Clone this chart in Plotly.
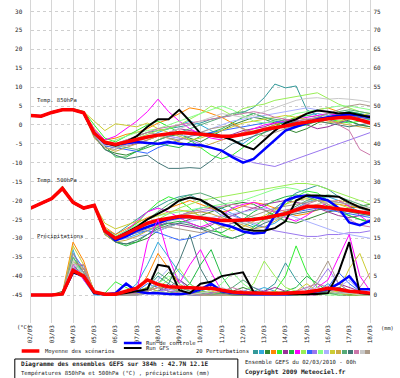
import plotly.graph_objects as go

# ---------------- data ----------------
hours = list(range(0, 385, 12))          # 02/03 00h .. 18/03 00h, 12 h steps
date_hours = list(range(0, 385, 24))
date_labels = ["02/03", "03/03", "04/03", "05/03", "06/03", "07/03", "08/03", "09/03",
               "10/03", "11/03", "12/03", "13/03", "14/03", "15/03", "16/03", "17/03", "18/03"]
temp_ticks = list(range(-45, 31, 5))
temp_tick_labels = [str(v) for v in temp_ticks]
precip_ticks = list(range(0, 76, 5))
precip_tick_labels = [str(v) for v in precip_ticks]

perturbation_names = ["%02d" % k for k in range(1, 21)]
perturbation_colors = ["#339999", "#33aadd", "#338833", "#ff8800", "#33ee33", "#993399", "#22bb44",
                       "#ff00ff", "#99ee55", "#3366ff", "#9977ee", "#88ff88", "#aab0ff", "#cccc33",
                       "#ccaa44", "#55aa77", "#447777", "#cc77aa", "#c8c8c8", "#aa9988"]

# 850 hPa temperature (degC)
t850_mean = [2.5, 2.3, 3.3, 4.0, 4.0, 3.2, -2.2, -4.6, -5.2, -4.5, -3.8, -3.2, -2.7, -2.3, -2.0, -2.2, -2.5,
             -2.8, -3.0, -3.0, -2.5, -2.0, -1.2, -0.8, -0.3, 0.3, 0.8, 1.2, 1.6, 1.9, 2.0, 1.3, 0.5]
t850_control = [2.5, 2.3, 3.3, 4.0, 4.0, 3.2, -2.2, -4.8, -5.2, -4.8, -4.5, -4.8, -5.0, -4.5, -5.0, -5.2, -5.4,
                -6.0, -6.8, -8.5, -10.0, -9.0, -6.5, -4.0, -1.5, -0.5, 0.5, 1.5, 2.0, 2.5, 2.8, 2.5, 2.0]
t850_gfs = [2.5, 2.3, 3.3, 4.0, 4.0, 3.2, -2.2, -4.8, -5.5, -4.5, -3.0, -0.5, 1.5, 1.5, 4.0, 1.0, -2.3,
            -2.5, -3.0, -4.0, -5.5, -6.5, -4.0, -1.5, 0.5, 1.5, 3.0, 3.8, 3.5, 3.0, 3.2, 2.5, 2.0]
t850_perturbations = [
    [2.4, 2.2, 3.4, 4.1, 4.2, 3.0, -1.5, -4.5, -5, -4, -3, -2, -1.5, -1, -0.5, 0, 0.5, 1.5, 2, 2.5, 3.3, 4.6, 7.2, 10.8, 9.8, 10.3, 4, 2.5, 1.5, 0.5, 1, 0, -0.5],
    [2.6, 2.3, 3.2, 3.9, 4.1, 3.3, -2.5, -5.5, -6, -5, -4, -3.5, -2, -1, 0, 1, 0, -1.5, -3, -4, -5, -3, -1, 0, 1, 1.5, 2.5, 3, 2.5, 3, 3.5, 3, 2.5],
    [2.5, 2.2, 3.3, 4.0, 3.9, 3.0, -3, -6.5, -7.5, -8, -7, -5.5, -4, -3, -2.5, -3.5, -4.5, -3, -1.5, 0, 1, 2, 1.5, 0.5, -1, -2, -1, 0.5, 1.5, 2, 1, 0, -0.5],
    [2.5, 2.4, 3.4, 4.1, 4.0, 3.4, -1, -4, -3.5, -2.5, -2, -1, 0.5, 1.5, 3, 4.5, 4, 3, 2, 0.5, -1, -2, -1, 0, 1, 2, 3, 4, 4.5, 3.5, 2.5, 2, 1.5],
    [2.4, 2.3, 3.5, 4.2, 4.3, 3.6, 0, -3.5, -4.5, -3, -1.5, 0, 1, -0.5, -2, -4, -6, -8, -9, -8, -6, -4, -2, -0.5, 1, 2, 2.5, 2, 1.5, 1, 0.5, 1, 1.5],
    [2.5, 2.2, 3.2, 3.9, 4.0, 3.1, -2.8, -5.5, -6, -5.5, -5, -4, -3, -2, -1, -1.5, -2, -3, -3.5, -2.5, -1.5, -1, -0.5, 0.5, 1.5, 1, 0, -1, -0.5, 0.5, 1.5, 2, 2.5],
    [2.6, 2.4, 3.3, 4.0, 4.1, 3.2, -2, -5.5, -8.5, -8.5, -7, -6, -5, -5.5, -6, -4.5, -3, -2, -1, 0.5, 2, 3, 2, 1, 0, -0.5, 0, 1, 2, 3, 3.5, 3, 2],
    [2.5, 2.3, 3.4, 4.1, 4.2, 3.4, -1.2, -4, -3, -1, 1, 3.5, 6.8, 3.5, 1, -1, -2.5, -3.5, -4, -3, -2, -1, 0, 0.5, 1, 1.5, 2, 2.5, 3, 2.5, 2, 1.5, 1],
    [2.4, 2.3, 3.3, 4.0, 4.0, 3.1, -1.8, -4.5, -5, -4.5, -3.5, -2.5, -1.5, -1, 0, 1.5, 3, 5, 4, 2.5, 4.3, 5, 5.5, 6.5, 7, 7.5, 8.2, 8.5, 7, 5.5, 4.5, 3.5, 3],
    [2.5, 2.3, 3.3, 4.0, 4.1, 3.2, -2.5, -5.5, -6, -6.5, -7, -7.5, -6, -5, -4, -3, -2.5, -2, -1.5, -1, -0.5, 0, 0.5, 1, 0.5, 0, 0.5, 1, 1.5, 2, 2.5, 2, 1.5],
    [2.5, 2.2, 3.2, 4.0, 4.0, 3.1, -2.5, -5, -5.5, -5, -4, -3, -2.5, -3, -3.5, -4, -5, -6, -7, -8, -9, -10, -10.5, -11, -10, -9, -8, -7, -6, -5, -4, -3, -2],
    [2.6, 2.4, 3.4, 4.1, 4.1, 3.4, -1.5, -4.8, -4, -3, -2, -1.5, -1, 0, 1, 2, 3, 4, 5, 4, 2.5, 1, 0.5, 1, 2, 3, 3.5, 4, 4.5, 5, 5, 4.5, 4],
    [2.4, 2.2, 3.2, 3.9, 3.9, 3.0, -2.8, -5.5, -5, -4.5, -4, -4.5, -5, -4, -3, -2.5, -2, -1, 0, 1, 1.5, 2, 2.5, 3, 3.5, 4, 4.5, 4, 3.5, 3, 2, 1.5, 1],
    [2.5, 2.3, 3.3, 4.0, 4.0, 3.5, 1, -1.5, 0.3, 0, -0.5, 0.5, -1, -2, -3, -4, -3.5, -2.5, -1.5, -0.5, 0.5, 1, 1.5, 2, 2.5, 2, 1.5, 1, 0.5, 1, 1.5, 2.5, 3],
    [2.5, 2.4, 3.3, 4.0, 4.0, 3.0, -3.5, -6, -7, -6, -5, -4, -3, -3.5, -4.5, -5.5, -6, -5, -4, -3, -2, -1.5, -1, -0.5, 0, 0.5, 1, 1.5, 1, 0.5, 0, -0.5, -1],
    [2.4, 2.3, 3.3, 4.0, 4.1, 3.2, -2, -5, -5.5, -6, -6.5, -5.5, -4, -3, -2, -1, 0, 1, 2, 3, 3.5, 3, 2, 1.5, 1, 0.5, 1, 2, 3, 3.5, 4, 3.5, 3],
    [2.5, 2.3, 3.3, 4.0, 4.0, 3.1, -3, -6.5, -8, -9, -8.5, -8, -10, -11.5, -11.5, -11.3, -11.5, -9.5, -7, -5, -4, -3, -2, -1, 0, 1, 1.5, 1, 0.5, 0, -0.5, 0, 0.5],
    [2.5, 2.3, 3.3, 4.0, 4.0, 3.3, -2, -5, -5, -4, -3, -2, -1, -0.5, 0, 0.5, 1, 1.5, 2, 2.5, 3, 3.5, 3, 2, 1.5, 1, 1.5, 2, 2, 0, -1.5, -6.5, -8],
    [2.5, 2.3, 3.3, 4.0, 4.0, 3.1, -2.5, -5.2, -6, -5.5, -4.5, -3.5, -3, -2, -1, 0, 1, 2, 3, 2.5, 2, 2.5, 3.5, 4.5, 5.5, 6.5, 7, 7.2, 6.8, 7, 6.8, 6.5, 6],
    [2.4, 2.2, 3.3, 4.0, 4.0, 3.0, -3, -6, -6.5, -5, -3, -2, -2.5, -3.5, -4, -3, -2, -1, -0.5, 0, -1, -2, -3, -2, -1, 0, 1, 2, 3, 4, 5, 5.5, 5],
]

# 500 hPa temperature (degC)
t500_mean = [-22, -20.8, -19.5, -16.8, -20.5, -22, -21.3, -28, -30, -28.8, -27.3, -26, -25.2, -24.6, -24.2, -24.3, -24.6,
             -25, -25.3, -25.3, -25.2, -25, -24.6, -24, -23.5, -22.5, -21.6, -21.5, -21.8, -22.2, -22.6, -23, -23.4]
t500_control = [-22, -20.8, -19.5, -16.8, -20.5, -22, -21.3, -28, -30.5, -29.5, -28, -27, -26, -25, -24.5, -24.3, -24.5,
                -25.5, -26.3, -27, -28.2, -28.7, -28.5, -24, -20, -19, -18.7, -19.2, -20, -22, -25.8, -26.5, -25.3]
t500_gfs = [-22, -20.8, -19.5, -16.8, -20.5, -22, -21.3, -28, -30, -28.5, -27, -25, -23.5, -22, -20, -19.2, -19.8,
            -21.5, -23, -25.3, -27.5, -28, -28, -27.3, -25.5, -20, -18.7, -18.7, -18.9, -19, -20.5, -21.8, -22.6]
t500_perturbations = [
    [-22.2, -20.6, -19.3, -16.5, -20.8, -22.3, -21, -27.5, -29, -27, -25, -23, -21.5, -20, -19, -18.5, -20, -22, -24, -25, -26, -27, -25, -22, -20, -18, -17, -16, -17, -19, -21, -22, -23],
    [-21.8, -20.9, -19.6, -17, -20.3, -21.8, -21.5, -28.5, -30.5, -30, -29, -28, -27, -25.5, -24, -23, -22, -21.5, -22, -23.5, -25, -26.5, -27, -26, -24, -22, -20.5, -19.5, -19, -20, -21.5, -23, -24],
    [-22, -20.7, -19.4, -16.6, -20.6, -22.1, -21.2, -29, -31, -31.5, -31, -30, -28, -27, -26, -25, -24, -23, -22, -21, -20.5, -21, -22.5, -24, -25.5, -26, -25, -24, -23, -22.5, -22, -21.5, -21],
    [-22.1, -20.8, -19.5, -17, -20.4, -21.9, -21.3, -27, -29, -27.5, -26, -24.5, -23.5, -22, -21, -20, -21, -22, -23, -22.5, -21.5, -20.5, -21, -22, -23, -24, -23.5, -22.5, -21.5, -21, -21.5, -22, -22.5],
    [-22, -20.8, -19.4, -16.2, -20.2, -21.8, -21.3, -27.5, -29.5, -28, -26, -23, -20.5, -19, -20, -22, -24.5, -27, -29, -30, -29, -27, -25, -23, -21, -19, -17.5, -18, -20, -22, -24, -25, -25.5],
    [-22, -20.9, -19.6, -17.1, -20.6, -22.2, -21.4, -28.5, -30.5, -29.5, -28, -27, -26.5, -26, -26.5, -27, -27.5, -26.5, -25, -24, -23, -22, -21, -20.5, -20, -20.5, -21, -22, -23, -24, -24.5, -24, -23.5],
    [-22.1, -20.7, -19.3, -16.4, -20.5, -22, -21.1, -28, -31, -32, -31, -29, -27, -26, -25.5, -26, -27, -28, -28.5, -27, -25, -23, -21.5, -20, -19, -18.5, -19, -20, -21.5, -23, -24, -25, -26],
    [-22, -20.8, -19.5, -16.9, -20.4, -22, -21.2, -27.8, -29.8, -28, -25.5, -23, -22, -23, -24.5, -26, -27, -26, -24, -22, -21, -20.5, -21.5, -23, -24.5, -25.5, -24, -22, -20.5, -20, -21.5, -24, -26],
    [-22, -20.7, -19.5, -16.5, -20.5, -22, -21.3, -28, -30, -29, -27.5, -26.5, -25, -23.5, -22, -21, -20, -19.5, -19, -18.5, -18, -17.5, -17, -16.5, -16, -15.5, -15.5, -16, -17, -18, -19, -20, -21],
    [-22, -20.8, -19.6, -16.8, -20.6, -22.1, -21.4, -28.2, -30.2, -29.5, -28.5, -28, -28.5, -29.5, -30.5, -30, -29, -28, -27, -26, -25.5, -25, -24.5, -24, -23.5, -23, -22.5, -22, -22.5, -23, -23.5, -24, -24.5],
    [-22, -20.9, -19.5, -16.7, -20.4, -21.9, -21.3, -28, -30, -29, -28, -27, -26, -25, -24, -23.5, -23, -22.5, -23, -24, -25, -26, -27, -28, -28.5, -29, -29.5, -29.5, -29, -29, -28.5, -28.5, -28],
    [-22.1, -20.8, -19.4, -16.6, -20.5, -22, -21.2, -27.5, -29.5, -28, -26.5, -25, -24, -23.5, -23, -22.5, -22, -21.5, -21, -20.5, -20, -19, -18, -17, -16.5, -17, -18, -19.5, -21, -22, -23, -23.5, -24],
    [-22, -20.8, -19.5, -16.9, -20.7, -22.2, -21.4, -28.5, -30.5, -30, -29.5, -29, -28, -27, -26, -25.5, -25, -24.5, -24, -23.5, -23, -22.5, -22, -22.5, -23.5, -24.5, -25.5, -26.5, -27.5, -28.5, -29, -29.5, -30],
    [-22, -20.7, -19.4, -16.4, -20.3, -21.8, -21, -26, -27.5, -26.5, -25.5, -25, -24, -23, -22.5, -23, -24, -25.5, -27, -28, -27, -25.5, -24, -22.5, -21, -20, -19.5, -20, -20.5, -21, -22, -23, -24],
    [-22, -20.9, -19.6, -17, -20.6, -22.1, -21.4, -29, -31, -30.5, -29.5, -28, -26.5, -25, -24, -23.5, -23, -23.5, -24.5, -25.5, -26.5, -27.5, -27, -25.5, -24, -23, -22, -21, -20.5, -20, -20.5, -21.5, -22.5],
    [-22.1, -20.8, -19.5, -16.6, -20.5, -22, -21.2, -28, -30, -28.5, -27, -25, -23, -21, -19.5, -18.5, -18, -19, -20.5, -22, -23.5, -24.5, -25, -24.5, -23, -21.5, -20, -19, -18.5, -19, -20, -21, -22],
    [-22, -20.8, -19.5, -16.8, -20.5, -22, -21.3, -28.5, -31, -31.5, -30.5, -29, -27.5, -26.5, -26, -26.5, -27.5, -28.5, -29.5, -30, -29, -27.5, -26, -25, -24, -23.5, -23, -22.5, -22, -22.5, -23, -23.5, -24],
    [-22, -20.8, -19.5, -16.7, -20.4, -21.9, -21.2, -27.8, -29.8, -29, -28, -27, -26, -25, -24, -23, -22.5, -22, -21.5, -21, -21.5, -22, -22.5, -23, -22.5, -22, -21, -20, -21, -23, -25, -26.5, -27],
    [-22, -20.8, -19.5, -16.8, -20.5, -22, -21.3, -28, -30, -29, -28, -27, -26, -25.5, -25, -24.5, -24, -24.5, -25, -25.5, -26, -26, -25.5, -25, -24, -23, -22, -21, -20.5, -20.5, -21, -21.5, -22],
    [-22, -20.8, -19.5, -16.8, -20.5, -22, -21.3, -28.3, -30.3, -29.5, -28.5, -27.5, -27, -27, -27.5, -28, -28.5, -28, -27, -26, -25, -24, -23, -22, -21.5, -21, -20.5, -20, -20, -20.5, -21, -22, -23],
]

# precipitation (mm, right axis)
precip_mean = [0, 0, 0, 0.3, 6.5, 5, 0.8, 0.2, 0.2, 1, 1.8, 4, 2.8, 2.2, 2, 2, 1.8,
               1.8, 1.2, 0.8, 0.6, 0.5, 0.4, 0.4, 0.5, 0.6, 0.8, 1.2, 1.8, 1.5, 1, 0.8, 0.5]
precip_control = [0, 0, 0, 0.3, 6, 5, 0.5, 0.2, 0.5, 3, 1, 0.5, 0.5, 0.3, 0.2, 0.5, 1.5,
                  3, 1, 0.5, 0.3, 0.2, 0.2, 0.3, 0.2, 0.3, 0.5, 1, 1.5, 3, 5, 1.5, 1.5]
precip_gfs = [0, 0, 0, 0.3, 6, 5, 0.5, 0.2, 0.2, 0.5, 1, 1.5, 8, 7.5, 1.3, 0.5, 3,
              3.5, 5, 5.5, 6, 0.8, 0.3, 0.3, 0.3, 0.3, 0.3, 0.3, 0.5, 6, 14, 0.5, 0.3]
precip_perturbations = [
    [0, 0, 0, 0.5, 9, 6, 0.5, 0, 0, 0, 0.5, 2, 5, 3, 1, 0.5, 1, 2, 1, 0.5, 0, 0, 1, 3, 8.5, 4, 1, 0.5, 1, 2, 1, 0.5, 0],
    [0, 0, 0, 0, 12, 4, 0, 0, 0, 0.5, 3, 8, 14, 10, 6, 3, 1, 0.5, 0, 0, 0, 1, 2, 1, 0, 0, 0.5, 1, 3, 1, 0.5, 0, 0.5],
    [0, 0, 0, 1, 7, 8, 1, 0, 0, 0, 0, 1, 3, 6, 4, 2, 1, 0.5, 0.5, 1, 2, 1, 0.5, 0, 0, 0, 0.5, 1, 0.5, 0, 0, 1, 0.5],
    [0, 0, 0, 0.5, 14, 9, 0.5, 0, 0, 0, 1, 5, 11, 7, 3, 1, 0.5, 0, 0, 0.5, 1, 0.5, 0, 0, 0, 0, 0.5, 1, 2, 1, 0.5, 0.5, 0],
    [0, 0, 0, 0, 8, 5, 1, 0.5, 3.5, 2, 0.5, 1, 2, 1, 0.5, 0, 0, 0, 0.5, 1, 0.5, 0, 0, 1, 5, 13, 6, 2, 1, 0.5, 0, 0, 0],
    [0, 0, 0, 0.3, 6, 7, 0.5, 0, 0, 0, 0, 0.5, 1, 2, 4, 2, 1, 0.5, 0, 0, 0, 0.5, 1, 2, 1, 0.5, 0, 0, 1, 3, 2, 1, 0.5],
    [0, 0, 0, 0.5, 10, 6, 0.5, 0, 0, 0.5, 1, 2, 1, 0.5, 1, 3, 8, 12, 5, 1, 0.5, 0, 0, 0.5, 1, 2, 5, 3, 1, 0.5, 0, 0, 0],
    [0, 0, 0, 0.3, 8, 4, 0.5, 0, 0, 0, 1, 14, 20, 10, 3, 8, 12, 6, 1, 0.5, 0, 0, 0, 0, 0, 0.5, 1, 2, 4, 10, 16, 5, 1],
    [0, 0, 0, 0, 9, 5, 0.5, 0, 0, 0, 0.5, 1, 2, 4, 7, 3, 1, 0.5, 0, 0, 0.5, 3, 9, 5, 2, 1, 0.5, 0, 0.5, 1, 0.5, 0, 0],
    [0, 0, 0, 0.5, 11, 7, 1, 0, 0, 0.5, 1, 3, 2, 1, 0.5, 0, 0, 0.5, 1, 0.5, 0, 0, 0, 0, 0.5, 1, 0.5, 1, 2, 6, 3, 1, 0.5],
    [0, 0, 0, 0, 7, 6, 1, 0, 0, 0, 0, 0.5, 1, 1.5, 1, 0.5, 0, 0, 0, 0.5, 1, 2, 1, 0.5, 0, 0, 0.5, 3, 7, 3, 1, 0.5, 0],
    [0, 0, 0, 0.3, 10, 5, 0.5, 0, 0, 0, 0.5, 1.5, 3, 5, 3, 1, 0.5, 1, 3, 6, 3, 1, 0.5, 0, 0, 0.5, 1, 0.5, 0, 0, 0.5, 1, 0.5],
    [0, 0, 0, 0.5, 8, 6, 0.5, 0, 0, 0, 0, 1, 4, 7, 4, 1, 0.5, 0, 0, 0, 0.5, 1, 0.5, 0, 0, 1, 2, 1, 0.5, 2, 4, 1, 0],
    [0, 0, 0, 0, 13, 8, 1, 0, 0, 0.5, 1, 2, 1, 0.5, 0, 0.5, 2, 1, 0.5, 0, 0, 0, 0, 0, 0.5, 1, 3, 1, 0.5, 1, 7, 11, 4],
    [0, 0, 0, 0.5, 9, 7, 1, 0, 0, 0, 0.5, 1, 2, 2, 1, 0.5, 0, 0, 0, 0, 0, 0, 0.5, 1, 0.5, 0, 0, 0.5, 1, 0.5, 0, 0, 0],
    [0, 0, 0, 0.3, 10, 6, 0.5, 0, 0, 0, 0.5, 2, 6, 4, 2, 1, 0.5, 0, 0.5, 2, 4, 2, 0.5, 0, 0, 0, 0.5, 1, 0.5, 0.5, 1, 0.5, 0],
    [0, 0, 0, 0, 7, 5, 0.5, 0, 0, 0, 0, 0.5, 1, 3, 9, 16, 7, 2, 0.5, 0, 0, 0, 0, 0.5, 0, 0, 0, 0.5, 1, 2, 1, 0.5, 0],
    [0, 0, 0, 0.5, 8, 8, 0.5, 0, 0, 0, 0.5, 1, 2, 1, 0.5, 0, 0, 0.5, 1, 2, 1, 0.5, 0, 0, 0.5, 1, 2, 3, 2, 1, 0.5, 2, 6],
    [0, 0, 0, 0.3, 9, 5, 0.5, 0, 0, 0, 0, 0.5, 1, 0.5, 0, 0, 0.5, 1, 2, 1, 0.5, 0, 0, 0, 0, 0.5, 1, 2, 1, 0.5, 0.5, 0, 0],
    [0, 0, 0, 0.5, 11, 6, 0.5, 0, 0, 0, 0, 1, 3, 2, 1, 0.5, 0, 0, 0, 0.5, 1, 0.5, 0, 0, 0, 0.5, 1, 4, 9, 3, 1, 0.5, 0],
]

# ---------------- figure ----------------
W, H = 400, 378
def px(x):
    return x / W
def py(y):
    return 1 - y / H

FONT = "DejaVu Sans Mono"
TXT = "#222222"

fig = go.Figure()

for series_set, yax in ((t850_perturbations, "y"), (t500_perturbations, "y"), (precip_perturbations, "y2")):
    for vals, col in zip(series_set, perturbation_colors):
        fig.add_trace(go.Scatter(x=hours, y=vals, mode="lines", xaxis="x", yaxis=yax,
                                 line=dict(color=col, width=1), showlegend=False, hoverinfo="skip"))

for ctrl, gfs, mean, yax in ((t850_control, t850_gfs, t850_mean, "y"),
                             (t500_control, t500_gfs, t500_mean, "y"),
                             (precip_control, precip_gfs, precip_mean, "y2")):
    fig.add_trace(go.Scatter(x=hours, y=ctrl, mode="lines", xaxis="x", yaxis=yax,
                             line=dict(color="#0000ff", width=2.5), showlegend=False))
    fig.add_trace(go.Scatter(x=hours, y=gfs, mode="lines", xaxis="x", yaxis=yax,
                             line=dict(color="#000000", width=2), showlegend=False))
    fig.add_trace(go.Scatter(x=hours, y=mean, mode="lines", xaxis="x", yaxis=yax,
                             line=dict(color="#ff0000", width=3.5), showlegend=False))

# perturbation colour swatches (legend)
fig.add_trace(go.Bar(x=list(range(1, 21)), y=[1] * 20, marker=dict(color=perturbation_colors, line=dict(width=0)),
                     width=0.85, xaxis="x3", yaxis="y3", showlegend=False, hoverinfo="skip"))
fig.add_trace(go.Scatter(x=list(range(1, 21)), y=[2.0] * 20, text=perturbation_names, mode="text",
                         textfont=dict(size=4, color="#444444", family=FONT), xaxis="x3", yaxis="y3",
                         cliponaxis=False, showlegend=False, hoverinfo="skip"))

fig.update_layout(
    width=W, height=H, margin=dict(l=0, r=0, t=0, b=0),
    paper_bgcolor="white", plot_bgcolor="white",
    font=dict(family=FONT, size=6, color=TXT),
    xaxis=dict(domain=[px(27), px(373)], range=[0, 384], tickvals=date_hours, ticktext=date_labels,
               anchor="y", side="bottom", tickangle=-90, showgrid=True, gridcolor="#d6d6d6", gridwidth=1,
               zeroline=False, showline=False, ticks="", tickfont=dict(size=6, color=TXT)),
    yaxis=dict(domain=[1 - 323 / H, 1], range=[-52.4, 33.04], tickvals=temp_ticks, ticktext=temp_tick_labels,
               anchor="x", showgrid=True, gridcolor="#cfcfcf", griddash="dot", gridwidth=1, zeroline=False,
               showline=True, linecolor="#d6d6d6", mirror=True, ticks="", ticklabelstandoff=6,
               tickfont=dict(size=6, color=TXT)),
    yaxis2=dict(overlaying="y", anchor="x", side="right", range=[-7.4, 78.04], tickvals=precip_ticks,
                ticktext=precip_tick_labels, showgrid=False, zeroline=False, ticks="",
                ticklabelstandoff=2, tickfont=dict(size=6, color=TXT)),
    xaxis3=dict(domain=[px(253), px(373)], range=[0.5, 20.5], visible=False, showticklabels=False,
                showgrid=False, anchor="y3"),
    yaxis3=dict(domain=[py(354), py(350)], range=[0, 1], visible=False, showticklabels=False,
                showgrid=False, anchor="x3"),
    bargap=0,
)

def note(x, y, text, size=5.5, bold=False, anchor="left"):
    fig.add_annotation(x=px(x), y=py(y), xref="paper", yref="paper", text=("<b>%s</b>" % text) if bold else text,
                       showarrow=False, xanchor=anchor, yanchor="middle",
                       font=dict(family=FONT, size=size, color=TXT))

note(32, 100, "Temp. 850hPa")
note(32, 180, "Temp. 500hPa")
note(32, 236, "Précipitations")
note(11, 327, "(°C)")
note(382, 328, "(mm)", size=5.3)
note(40, 351, "Moyenne des scénarios")
note(143, 343, "Run de controle")
note(143, 348, "Run GFS")
note(251, 351, "20 Perturbations", anchor="right")
note(15, 364, "Diagramme des ensembles GEFS sur 384h : 42.7N 12.1E", size=6.1, bold=True)
note(15, 373, "Températures 850hPa et 500hPa (°C) , précipitations (mm)", size=5.6)
note(243, 362, "Ensemble GEFS du 02/03/2010 - 00h", size=5.6)
note(243, 372, "Copyright 2009 Meteociel.fr", size=6.2, bold=True)

def hline(x0, x1, y, color, width):
    fig.add_shape(type="line", xref="paper", yref="paper", x0=px(x0), x1=px(x1), y0=py(y), y1=py(y),
                  line=dict(color=color, width=width))

hline(18, 36, 351, "#ff0000", 3.5)
hline(122, 140, 343, "#0000ff", 2.5)
hline(122, 140, 348, "#000000", 2)
fig.add_shape(type="rect", xref="paper", yref="paper", x0=px(11), x1=px(238), y0=py(359), y1=py(382),
              line=dict(color="#000000", width=1))

# the page's default body margin would shift the figure by 8 px; remove it
fig.write_html("out.html", config={"displayModeBar": False},
               post_script="document.body.style.margin='0';document.body.style.padding='0';")
